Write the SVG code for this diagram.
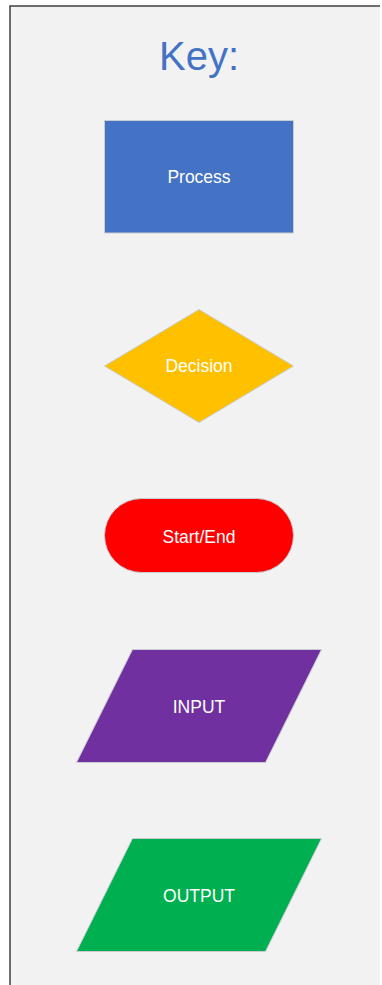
<svg xmlns="http://www.w3.org/2000/svg" width="382" height="985" viewBox="0 0 382 985">
  <style>
    .lbl { font-family: "Liberation Sans", Arial, sans-serif; font-size: 17.5px; fill: #FFFFFF; text-anchor: middle; }
    .shape { stroke: #C9CCD2; stroke-width: 1; }
    .title { font-family: "Liberation Sans", Arial, sans-serif; font-size: 40px; fill: #4472C4; text-anchor: middle; }
  </style>
  <rect x="0" y="0" width="382" height="985" fill="#FFFFFF"/>
  <g id="panel">
    <rect x="10" y="6" width="370" height="985" fill="#F2F2F2"/>
    <path d="M10 985 V6 H380" fill="none" stroke="#404040" stroke-width="1.5"/>
    <text class="title" x="199" y="70">Key:</text>
  </g>
  <g id="process">
    <rect class="shape" x="104.5" y="120.5" width="189" height="112.5" fill="#4472C4"/>
    <text class="lbl" x="199" y="183">Process</text>
  </g>
  <g id="decision">
    <polygon class="shape" points="199,309.5 293.5,366 199,422.5 104.5,366" fill="#FFC000"/>
    <text class="lbl" x="199" y="372">Decision</text>
  </g>
  <g id="start-end">
    <rect class="shape" x="104.5" y="498.5" width="189" height="74" rx="37" ry="37" fill="#FF0000"/>
    <text class="lbl" x="199" y="543">Start/End</text>
  </g>
  <g id="input">
    <polygon class="shape" points="132.5,649.5 321.5,649.5 265.5,762.5 76.5,762.5" fill="#7030A0"/>
    <text class="lbl" x="199" y="713">INPUT</text>
  </g>
  <g id="output">
    <polygon class="shape" points="132.5,838.5 321.5,838.5 265.5,951.5 76.5,951.5" fill="#00B050"/>
    <text class="lbl" x="199" y="902">OUTPUT</text>
  </g>
</svg>
